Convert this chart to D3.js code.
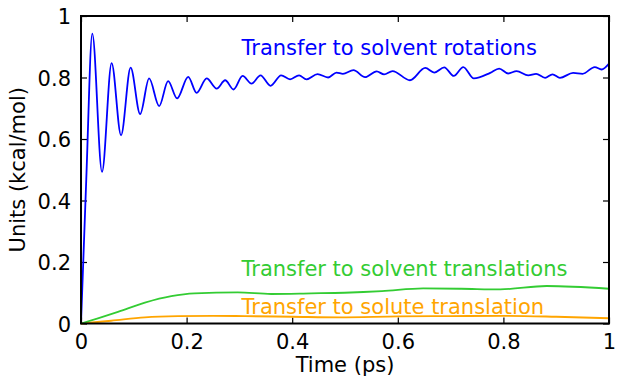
<!DOCTYPE html>
<html>
<head>
<meta charset="utf-8">
<script src="https://cdn.jsdelivr.net/npm/d3@7"></script>
<style>
  body { margin: 0; background: #fff; }
  text { font-family: "DejaVu Sans", sans-serif; }
</style>
</head>
<body>
<div id="chart"></div>
<script>
// time (ps) and values
const rotT = [0, 0.010, 0.0214, 0.0398, 0.058, 0.0758, 0.094, 0.112, 0.129, 0.148, 0.165, 0.182, 0.203, 0.219, 0.238, 0.257, 0.273, 0.289, 0.306, 0.323, 0.340, 0.359, 0.379, 0.396, 0.413, 0.427, 0.448, 0.468, 0.484, 0.496, 0.516, 0.538, 0.560, 0.574, 0.590, 0.623, 0.652, 0.669, 0.688, 0.706, 0.724, 0.744, 0.775, 0.792, 0.809, 0.825, 0.847, 0.862, 0.879, 0.893, 0.907, 0.932, 0.950, 0.973, 0.986, 1.0]
const rotV = [0, 0.47, 0.943, 0.493, 0.847, 0.612, 0.832, 0.681, 0.797, 0.707, 0.788, 0.732, 0.802, 0.750, 0.797, 0.764, 0.791, 0.761, 0.805, 0.780, 0.807, 0.773, 0.807, 0.794, 0.807, 0.794, 0.811, 0.800, 0.816, 0.812, 0.824, 0.801, 0.820, 0.810, 0.821, 0.791, 0.831, 0.816, 0.833, 0.805, 0.834, 0.797, 0.815, 0.829, 0.813, 0.821, 0.807, 0.812, 0.799, 0.810, 0.799, 0.815, 0.812, 0.834, 0.826, 0.845]

const solvT = [0, 0.032, 0.070, 0.121, 0.171, 0.215, 0.297, 0.360, 0.436, 0.499, 0.570, 0.648, 0.720, 0.794, 0.882, 1.0]
const solvV = [0, 0.017, 0.038, 0.068, 0.089, 0.098, 0.101, 0.096, 0.098, 0.100, 0.105, 0.114, 0.113, 0.111, 0.122, 0.113]

const soluT = [0, 0.057, 0.121, 0.184, 0.250, 0.310, 0.400, 0.490, 0.600, 0.700, 0.806, 0.900, 1.0]
const soluV = [0, 0.009, 0.020, 0.024, 0.025, 0.024, 0.022, 0.020, 0.023, 0.024, 0.025, 0.022, 0.017]

const xTicks = [0, 0.2, 0.4, 0.6, 0.8, 1]
const yTicks = [0, 0.2, 0.4, 0.6, 0.8, 1]

const labels = ['Transfer to solvent rotations', 'Transfer to solvent translations', 'Transfer to solute translation']

const w = 617, h = 379
const m = {left: 81, top: 16, right: 8, bottom: 55.5}
const iw = w - m.left - m.right
const ih = h - m.top - m.bottom
const fs = '21px'

const svg = d3.select('#chart').append('svg')
    .attr('width', w)
    .attr('height', h)

const x = d3.scaleLinear().domain([0, 1]).range([0, iw])
const y = d3.scaleLinear().domain([0, 1]).range([ih, 0])

const g = svg.append('g').attr('transform', `translate(${m.left},${m.top})`)

const fmt = d => d === 0 ? '0' : d === 1 ? '1' : d3.format('.1f')(d)

// axes with inward ticks on all four sides
const tickLen = 6
const axB = g.append('g').attr('transform', `translate(0,${ih})`)
    .call(d3.axisBottom(x).tickValues(xTicks).tickFormat(fmt).tickSizeInner(-tickLen).tickSizeOuter(0).tickPadding(11))
const axT = g.append('g')
    .call(d3.axisTop(x).tickValues(xTicks).tickFormat('').tickSizeInner(-tickLen).tickSizeOuter(0))
const axL = g.append('g')
    .call(d3.axisLeft(y).tickValues(yTicks).tickFormat(fmt).tickSizeInner(-tickLen).tickSizeOuter(0).tickPadding(10))
const axR = g.append('g').attr('transform', `translate(${iw},0)`)
    .call(d3.axisRight(y).tickValues(yTicks).tickFormat('').tickSizeInner(-tickLen).tickSizeOuter(0))

;[axB, axT, axL, axR].forEach(a => {
    a.select('.domain').remove()
    a.selectAll('line').attr('stroke', '#000').attr('stroke-width', 1.2)
    a.selectAll('text').attr('fill', '#000').style('font-size', fs)
        .style('font-family', '"DejaVu Sans", sans-serif')
})
axL.selectAll('text').attr('dy', '0.36em')

function series(ts, vs, color) {
    const pts = ts.map((t, i) => [t, vs[i]])
    g.append('path')
        .datum(pts)
        .attr('fill', 'none')
        .attr('stroke', color)
        .attr('stroke-width', 1.8)
        .attr('d', d3.line()
            .x(d => x(d[0]))
            .y(d => y(d[1]))
            .curve(d3.curveMonotoneX))
}

series(soluT, soluV, '#ffa500')
series(solvT, solvV, '#33cc33')
series(rotT, rotV, '#0000ff')

// frame
g.append('rect')
    .attr('width', iw).attr('height', ih)
    .attr('fill', 'none').attr('stroke', '#000').attr('stroke-width', 2)

// in-plot labels
const labelPos = [[0.304, 0.872, '#0000ff'], [0.304, 0.1535, '#33cc33'], [0.304, 0.032, '#ffa500']]
labels.forEach((s, i) => {
    g.append('text')
        .attr('x', x(labelPos[i][0]))
        .attr('y', y(labelPos[i][1]))
        .attr('fill', labelPos[i][2])
        .style('font-size', fs)
        .text(s)
})

svg.append('text')
    .attr('x', m.left + iw / 2)
    .attr('y', 372)
    .attr('text-anchor', 'middle')
    .style('font-size', fs)
    .text('Time (ps)')

svg.append('text')
    .attr('transform', `translate(25,${m.top + ih / 2}) rotate(-90)`)
    .attr('text-anchor', 'middle')
    .style('font-size', fs)
    .text('Units (kcal/mol)')
</script>
</body>
</html>
